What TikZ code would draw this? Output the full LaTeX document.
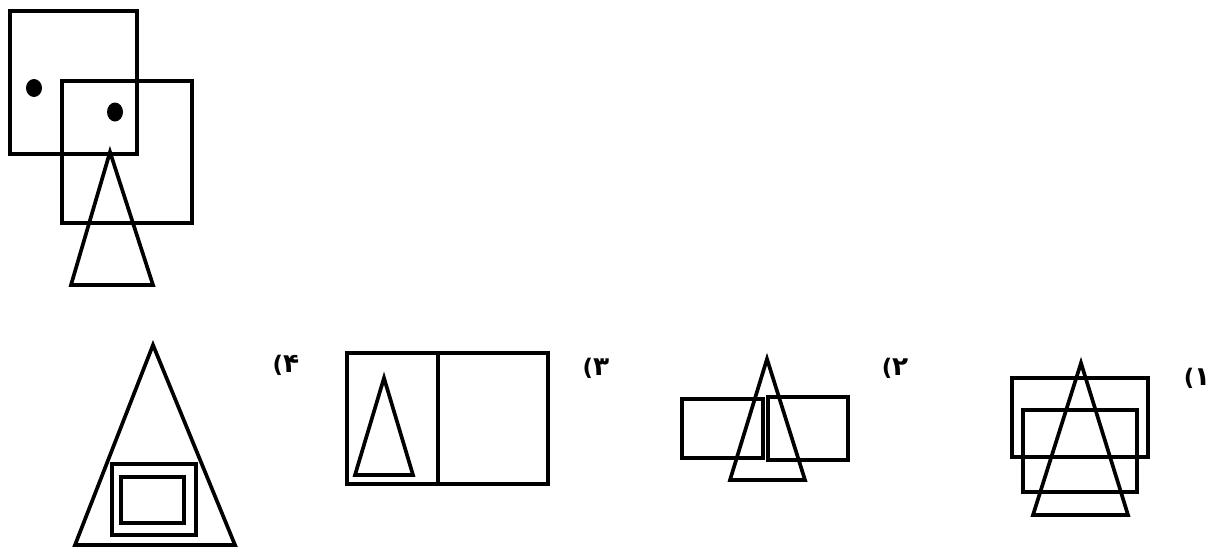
\documentclass[tikz,border=0pt]{standalone}
\usepackage{fontspec}
\newfontfamily\arabicfont[Script=Arabic]{DejaVu Sans}
\newfontfamily\parenfont{DejaVu Sans}
\newcommand\optlab[1]{{\parenfont\bfseries(}{\arabicfont\bfseries\fontsize{15}{15}\selectfont #1}}
\begin{document}
\begin{tikzpicture}[x=0.02cm,y=-0.02cm,
  shape line/.style={line width=2.1pt,line join=miter},
  optlabel/.style={inner sep=0pt,font=\fontsize{13}{13}\selectfont}]
\useasboundingbox (0,0) rectangle (1210,548);
% question figure
\draw[shape line] (10,11) rectangle (137,154);
\draw[shape line] (62,81) rectangle (192,223);
\fill (34,88) ellipse [x radius=8,y radius=9];
\fill (115,112) ellipse [x radius=8,y radius=9.5];
\draw[shape line] (110,152) -- (153,285) -- (71,285) -- cycle;
% option 4
\draw[shape line] (153,345) -- (235,545) -- (75,545) -- cycle;
\draw[shape line] (112,464) rectangle (196,535);
\draw[shape line] (121,477) rectangle (184,523);
\node[optlabel] (l4) at (286,365) {\optlab{۴}};
% option 3
\draw[shape line] (347,353) rectangle (548,484);
\draw[shape line] (438,353) -- (438,484);
\draw[shape line] (384,378) -- (413,475) -- (355,475) -- cycle;
\node[optlabel] (l3) at (596,368) {\optlab{۳}};
% option 2
\draw[shape line] (682,399) rectangle (763,458);
\draw[shape line] (768,397) rectangle (848,460);
\draw[shape line] (767,359) -- (805,480) -- (730,480) -- cycle;
\node[optlabel] (l2) at (895,368) {\optlab{۲}};
% option 1
\draw[shape line] (1012,378) rectangle (1148,457);
\draw[shape line] (1023,410) rectangle (1137,492);
\draw[shape line] (1081,363) -- (1128,515) -- (1033,515) -- cycle;
\node[optlabel] (l1) at (1197,378) {\optlab{۱}};
\end{tikzpicture}
\end{document}
